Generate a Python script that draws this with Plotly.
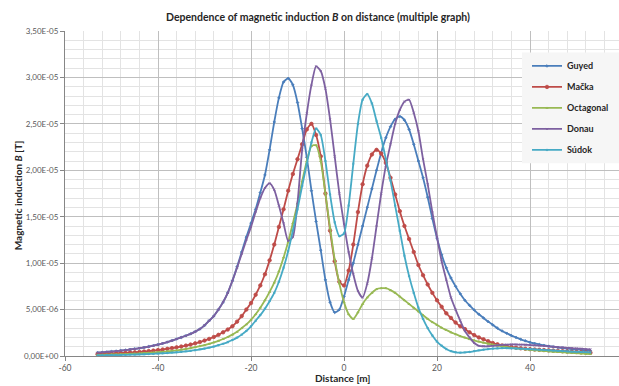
import plotly.graph_objects as go

# Distance [m]
distance = list(range(-53, 54))

# Magnetic induction values in units of 1e-5 T
B_UNIT = 1e-5

guyed = [
    0.036, 0.040, 0.044, 0.048, 0.053, 0.058, 0.064, 0.070, 0.077, 0.084,   # -53..-44
    0.092, 0.101, 0.111, 0.122, 0.135, 0.150, 0.166, 0.183, 0.200, 0.218,   # -43..-34
    0.238, 0.262, 0.29, 0.33, 0.38, 0.43, 0.50, 0.58, 0.68, 0.81,           # -33..-24
    0.96, 1.12, 1.28, 1.43, 1.58, 1.76, 1.95, 2.22, 2.52, 2.78,             # -23..-14
    2.95, 2.99, 2.92, 2.73, 2.45, 2.14, 1.78, 1.45, 1.14, 0.82,             # -13..-4
    0.58, 0.47, 0.50, 0.64, 0.82, 1.00, 1.20, 1.40, 1.60, 1.80,             # -3..6
    2.00, 2.19, 2.35, 2.47, 2.55, 2.58, 2.54, 2.44, 2.28, 2.10,             # 7..16
    1.92, 1.71, 1.48, 1.27, 1.09, 0.95, 0.84, 0.75, 0.67, 0.60,             # 17..26
    0.545, 0.495, 0.45, 0.41, 0.37, 0.335, 0.30, 0.27, 0.245, 0.22,         # 27..36
    0.20, 0.18, 0.163, 0.148, 0.135, 0.124, 0.114, 0.106, 0.099, 0.092,     # 37..46
    0.086, 0.080, 0.075, 0.070, 0.066, 0.061, 0.057,                        # 47..53
]

macka = [
    0.020, 0.022, 0.024, 0.026, 0.028, 0.031, 0.034, 0.037, 0.040, 0.044,
    0.048, 0.053, 0.058, 0.064, 0.070, 0.077, 0.085, 0.093, 0.102, 0.112,
    0.123, 0.136, 0.150, 0.166, 0.184, 0.205, 0.228, 0.255, 0.285, 0.32,
    0.37, 0.43, 0.50, 0.57, 0.66, 0.76, 0.88, 1.03, 1.20, 1.39,
    1.58, 1.78, 1.96, 2.12, 2.28, 2.44, 2.50, 2.38, 2.15, 1.75,
    1.35, 1.02, 0.80, 0.76, 0.92, 1.20, 1.55, 1.85, 2.05, 2.17,
    2.22, 2.18, 2.08, 1.92, 1.74, 1.56, 1.40, 1.26, 1.12, 0.98,
    0.87, 0.77, 0.68, 0.60, 0.53, 0.46, 0.41, 0.36, 0.32, 0.29,
    0.255, 0.225, 0.20, 0.18, 0.16, 0.14, 0.126, 0.114, 0.104, 0.096,
    0.089, 0.083, 0.078, 0.074, 0.070, 0.067, 0.064, 0.061, 0.058, 0.055,
    0.052, 0.049, 0.046, 0.044, 0.041, 0.039, 0.036,
]

octagonal = [
    0.012, 0.013, 0.014, 0.016, 0.017, 0.019, 0.021, 0.023, 0.025, 0.028,
    0.031, 0.034, 0.037, 0.041, 0.045, 0.050, 0.055, 0.061, 0.068, 0.076,
    0.085, 0.095, 0.106, 0.118, 0.131, 0.146, 0.163, 0.183, 0.205, 0.23,
    0.26, 0.30, 0.34, 0.39, 0.45, 0.52, 0.60, 0.69, 0.79, 0.91,
    1.06, 1.23, 1.43, 1.64, 1.88, 2.10, 2.26, 2.27, 2.10, 1.75,
    1.38, 1.04, 0.78, 0.58, 0.45, 0.40, 0.47, 0.56, 0.63, 0.68,
    0.72, 0.73, 0.73, 0.71, 0.68, 0.64, 0.60, 0.56, 0.52, 0.48,
    0.44, 0.40, 0.365, 0.335, 0.305, 0.28, 0.255, 0.235, 0.215, 0.198,
    0.182, 0.168, 0.155, 0.143, 0.132, 0.122, 0.113, 0.104, 0.096, 0.089,
    0.082, 0.076, 0.071, 0.066, 0.062, 0.058, 0.054, 0.050, 0.046, 0.043,
    0.040, 0.036, 0.033, 0.030, 0.027, 0.024, 0.021,
]

donau = [
    0.036, 0.040, 0.044, 0.048, 0.053, 0.058, 0.064, 0.070, 0.077, 0.084,
    0.092, 0.101, 0.111, 0.122, 0.135, 0.150, 0.166, 0.183, 0.200, 0.218,
    0.238, 0.262, 0.29, 0.33, 0.38, 0.43, 0.50, 0.58, 0.68, 0.81,
    0.95, 1.10, 1.25, 1.39, 1.55, 1.70, 1.81, 1.86, 1.79, 1.62,
    1.43, 1.24, 1.28, 1.65, 2.22, 2.61, 2.92, 3.12, 3.07, 2.88,
    2.55, 2.15, 1.75, 1.42, 1.12, 0.88, 0.70, 0.63, 0.78, 1.05,
    1.40, 1.75, 2.05, 2.28, 2.50, 2.65, 2.74, 2.76, 2.62, 2.42,
    2.12, 1.85, 1.55, 1.28, 1.02, 0.82, 0.63, 0.50, 0.38, 0.27,
    0.20, 0.14, 0.11, 0.105, 0.105, 0.11, 0.115, 0.12, 0.122, 0.124,
    0.124, 0.123, 0.121, 0.118, 0.115, 0.112, 0.108, 0.104, 0.100, 0.096,
    0.092, 0.088, 0.085, 0.081, 0.078, 0.075, 0.072,
]

sudok = [
    0.006, 0.007, 0.008, 0.009, 0.010, 0.011, 0.012, 0.014, 0.015, 0.017,
    0.019, 0.021, 0.023, 0.026, 0.029, 0.032, 0.036, 0.040, 0.045, 0.050,
    0.056, 0.063, 0.071, 0.080, 0.090, 0.102, 0.116, 0.132, 0.150, 0.172,
    0.198, 0.23, 0.27, 0.32, 0.38, 0.44, 0.51, 0.59, 0.68, 0.80,
    0.95, 1.13, 1.35, 1.58, 1.83, 2.07, 2.30, 2.45, 2.38, 2.10,
    1.74, 1.44, 1.29, 1.32, 1.62, 2.07, 2.50, 2.76, 2.82, 2.72,
    2.53, 2.35, 2.12, 1.89, 1.62, 1.35, 1.08, 0.86, 0.68, 0.52,
    0.40, 0.30, 0.22, 0.155, 0.11, 0.075, 0.052, 0.040, 0.036, 0.038,
    0.044, 0.052, 0.060, 0.068, 0.075, 0.080, 0.083, 0.084, 0.084, 0.083,
    0.081, 0.079, 0.077, 0.074, 0.071, 0.068, 0.065, 0.062, 0.059, 0.056,
    0.053, 0.050, 0.047, 0.045, 0.043, 0.041, 0.039,
]

series_names = ["Guyed", "Mačka", "Octagonal", "Donau", "Súdok"]
series_values = [guyed, macka, octagonal, donau, sudok]
series_colors = ["#4A7EBB", "#BE4B48", "#98B954", "#7D60A0", "#46AAC5"]
series_markers = ["diamond", "circle", "triangle-up", "x-thin", "asterisk"]

y_tick_vals = [0, 5e-6, 1e-5, 1.5e-5, 2e-5, 2.5e-5, 3e-5, 3.5e-5]
y_tick_text = ["0,00E+00", "5,00E-06", "1,00E-05", "1,50E-05",
               "2,00E-05", "2,50E-05", "3,00E-05", "3,50E-05"]
x_tick_vals = [-60, -40, -20, 0, 20, 40, 60]
x_tick_text = ["-60", "-40", "-20", "0", "20", "40", "60"]

FONT = "Lato"

fig = go.Figure()
for i, (name, vals, col, mk) in enumerate(zip(series_names, series_values,
                                               series_colors, series_markers)):
    fig.add_trace(go.Scatter(
        x=distance,
        y=[v * B_UNIT for v in vals],
        mode="lines+markers",
        name=name,
        legendgroup=f"g{i}",
        line=dict(color=col, width=1.8, shape="spline", smoothing=0.6),
        marker=dict(symbol=mk, size=3.5 if name == "Mačka" else 2,
                    color=col, line=dict(color=col, width=0.8)),
    ))

W, H = 619, 386
L, R, T, B = 65, 0, 30.5, 30
PW, PH = W - L - R, H - T - B


def px_x(p):
    return (p - L) / PW


def px_y(p):
    return (H - B - p) / PH


fig.update_layout(
    width=W, height=H,
    margin=dict(l=L, r=R, t=T, b=B, pad=0),
    paper_bgcolor="white",
    plot_bgcolor="white",
    font=dict(family=FONT, color="#404040"),
    title=dict(
        text="<b>Dependence of magnetic induction <i>B</i> on distance (multiple graph)</b>",
        x=318 / W, xref="container", xanchor="center",
        y=1 - 17 / H, yref="container", yanchor="middle",
        font=dict(family=FONT, size=10.5, color="#262626"),
    ),
    showlegend=True,
    legend=dict(
        x=px_x(527), xanchor="left",
        y=px_y(51), yanchor="top",
        bgcolor="rgba(0,0,0,0)",
        borderwidth=0,
        font=dict(family=FONT, size=9, color="#262626", weight="bold"),
        itemwidth=30,
        tracegroupgap=2,
    ),
    shapes=[dict(
        type="rect", xref="paper", yref="paper",
        x0=px_x(522), x1=1.02,
        y0=px_y(163), y1=px_y(52),
        fillcolor="#F6F6F6", line=dict(width=0), layer="above",
    )],
    annotations=[
        dict(text="<b>Distance [m]</b>", xref="paper", yref="paper",
             x=px_x(343), y=px_y(378), xanchor="center", yanchor="middle",
             showarrow=False, font=dict(family=FONT, size=10, color="#262626")),
        dict(text="<b>Magnetic induction <i>B</i> [T]</b>", xref="paper", yref="paper",
             x=px_x(18), y=px_y(195), xanchor="center", yanchor="middle",
             textangle=-90, showarrow=False,
             font=dict(family=FONT, size=10, color="#262626")),
    ],
)

fig.update_xaxes(
    range=[-60, -60 + PW / 4.65],
    tickmode="array", tickvals=x_tick_vals, ticktext=x_tick_text,
    showgrid=True, gridcolor="#BFBFBF", gridwidth=1,
    minor=dict(dtick=4, tick0=-60, showgrid=True, gridcolor="#E3E3E3", gridwidth=1),
    showline=True, linecolor="#868686", linewidth=1,
    ticks="outside", ticklen=4, tickcolor="#868686",
    tickfont=dict(family=FONT, size=8.5, color="#595959"),
    zeroline=False,
)
fig.update_yaxes(
    range=[0, 3.5e-5],
    tickmode="array", tickvals=y_tick_vals, ticktext=y_tick_text,
    showgrid=True, gridcolor="#BFBFBF", gridwidth=1,
    minor=dict(dtick=1e-6, tick0=0, showgrid=True, gridcolor="#E3E3E3", gridwidth=1),
    showline=True, linecolor="#868686", linewidth=1,
    ticks="outside", ticklen=4, tickcolor="#868686",
    tickfont=dict(family=FONT, size=8, color="#595959"),
    zeroline=False,
)

fig.write_html("out.html", config={"displayModeBar": False},
               post_script="document.body.style.margin='0';")
